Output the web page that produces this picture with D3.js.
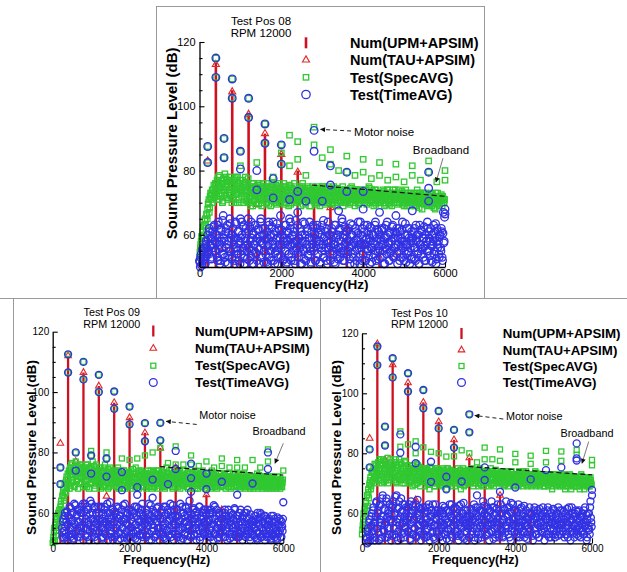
<!DOCTYPE html>
<html>
<head>
<meta charset="utf-8">
<script src="https://cdn.jsdelivr.net/npm/d3@7"></script>
<style>
html, body { margin: 0; padding: 0; background: #fff; }
svg { display: block; font-family: "Liberation Sans", Arial, sans-serif; }
</style>
</head>
<body>
<svg id="chart" width="627" height="572"></svg>
<script>
// ---------- shared axis / legend text ----------
const BIN_HZ = 20;                       // spacing of the measured spectral bins
const MID_OFFSET_HZ = 10;                // readings taken half-way between bins
const xTicks = [0, 2000, 4000, 6000];
const xMinorTicks = [1000, 3000, 5000];
const yTicks = [60, 80, 100, 120];
const yMinorTicks = [55, 65, 70, 75, 85, 90, 95, 105, 110, 115];
const legendLabels = ["Num(UPM+APSIM)", "Num(TAU+APSIM)", "Test(SpecAVG)", "Test(TimeAVG)"];
const titles08 = ["Test Pos 08", "RPM 12000"];
const titles09 = ["Test Pos 09", "RPM 12000"];
const titles10 = ["Test Pos 10", "RPM 12000"];

// ---------- Pos 08 ----------
const upm08 = [[200,59],[400,113.5],[800,105],[1200,98],[1600,91.5],[2000,85.5],[2400,80],[2800,74.5],[3200,69],[3600,63],[4000,58],[4400,55],[1000,57],[1400,56]];
const tau08 = [[200,83],[400,113],[800,104.5],[1200,97.5],[1400,69.5],[1600,91.5],[2000,85],[2400,79.5],[3200,68.5],[3600,62],[4000,57],[600,56],[2800,60],[4800,54]];
const specPeaks08 = [[200,87.5],[200,82.5],[400,115],[400,109],[600,90],[600,84],[800,108.5],[800,102.5],[1000,86],[1000,81.5],[1200,102.5],[1200,96.5],[1400,82.5],[1400,74],[1600,94.5],[1600,88.5],[1800,78],[2000,88],[2000,85.5],[2000,82],[2200,91],[2200,81.5],[2400,89],[2400,83.5],[2600,78.5],[2800,93.5],[2800,88],[3000,84],[3200,86.5],[3200,82],[3400,80],[3600,84.5],[3600,79.5],[3800,78.5],[4000,83.5],[4000,79.5],[4200,77.5],[4400,82.5],[4400,78.5],[4600,77],[4800,82],[4800,78],[5000,76.5],[5200,81.5],[5200,78.5],[5400,77],[5600,83],[5600,79.5],[5800,76.5],[6000,80],[6000,77]];
const timePeaks08 = [[200,87.5],[200,82.5],[400,115],[400,109],[600,90],[600,84],[800,108.5],[800,102.5],[1000,86],[1000,80.5],[1200,102.5],[1200,96.5],[1400,80],[1400,74],[1600,94.5],[1600,88.5],[1800,77.5],[1800,71.5],[2000,88],[2000,82],[2200,71],[2200,65],[2400,73.5],[2400,67],[2600,70.5],[2800,92.5],[2800,86],[3000,70.5],[3200,81.5],[3200,75.5],[3400,67.5],[3600,79.5],[3600,73.5],[4000,73.5],[4000,68],[4400,67],[4800,66],[5200,67.5],[5600,79.5],[5600,74.5],[5600,70.5],[6000,68],[6000,66.5]];
const specBand08 = [
53,56,58,55,61,59,63,65,62,66,68,70,67,72,71,73,70,74,72,75,
76,72,74,78,71,75,77,73,70,76,74,79,72,75,77,71,74,78,73,76,
75,72,77,74,70,78,73,76,71,75,77,73,74,70,76,72,78,74,71,75,
73,70,75,72,74,69,76,71,73,75,70,74,72,76,71,73,69,75,72,74,
72,75,70,73,76,71,74,69,73,75,71,72,74,70,75,73,71,76,72,70,
74,71,73,76,70,72,75,71,74,69,73,75,72,70,74,71,76,72,73,70,
71,74,72,75,69,73,76,71,72,74,70,73,75,71,72,74,69,73,75,72,
73,70,74,72,75,71,73,69,74,72,71,75,70,73,74,71,72,75,70,73,
72,74,70,73,75,71,72,74,69,73,71,74,72,70,73,75,71,72,74,70,
73,71,74,72,70,73,75,71,72,74,69,72,74,71,73,70,74,72,71,73,
71,73,70,74,72,71,73,75,70,72,74,71,73,69,72,74,71,73,70,72,
72,70,73,71,74,72,69,73,71,72,74,70,72,73,71,69,73,72,70,74,
71,73,70,72,74,71,72,70,73,71,69,72,74,71,70,73,72,71,69,72,
70,72,73,71,69,72,74,70,71,73,72,70,68,72,73,71,70,72,69,71,
72,70,71,73,69,71,72,70,68,72,71,73,70,69,72,71,70,72,71,70];
const specMid08 = [
54.5,57,59.5,56,62.5,60,64.5,63,66.5,65,69.5,71,68.5,73,72.5,74,71.5,75.5,73,76,
73.5,77,71,75.5,78.5,72,74.5,76,70.5,77.5,73,75,78,71.5,76.5,74,72.5,77,75.5,70,
76.5,71,74,77.5,72.5,75,78,73.5,70,76,74.5,72,77,75.5,71,73.5,76.5,70.5,74,77.5,
71.5,74.5,69,73,76,70.5,72.5,75,71,74,72,75.5,69.5,73,71.5,74.5,70,76,72.5,73.5,
73.5,70,74.5,72,69.5,75,71.5,73,76,70.5,74,71,72.5,75.5,69.5,73,74.5,70,72,75,
71,73.5,75,69.5,72.5,74,70,73,71.5,75.5,72,69.5,74.5,71,73,75,70.5,72,74,71.5,
73,70.5,72,74.5,71,75,69.5,72.5,74,70,73.5,71.5,72,74.5,69,73,71,74,72.5,70.5,
71.5,74,72.5,69.5,73,71,74.5,72,70,73.5,75,71,72.5,69.5,74,72,70.5,73,71.5,74.5,
73.5,71,69.5,74,72,70.5,73.5,71.5,74.5,70,72.5,73,70.5,74,71.5,69,72.5,74,70,73,
70.5,73,72,69.5,74.5,71,72.5,70,73.5,71.5,74,70.5,72,73.5,69.5,72.5,71,74,72,70.5,
72.5,70,74,71.5,69.5,73,72,74.5,71,70.5,72.5,73.5,70,72,74,69.5,72.5,71,73,71.5,
70.5,73,71.5,72.5,70,73.5,71,69.5,72,74,71,72.5,69.5,73,70.5,72,74,70,71.5,72.5,
72,69.5,71.5,73,70,72.5,71,73.5,69.5,72,70.5,73,71.5,69,72.5,70.5,71,73,70,71.5,
71.5,70,72.5,69.5,71,73,70.5,72,68.5,71.5,73,70,71,72.5,69.5,71,73,70.5,72,69.5,
70.5,72,69.5,71,72.5,70,68.5,71.5,73,70,71.5,69.5,72,70.5,71,72.5,69,71.5,70,71];
const timeBand08 = [
52,50,54,51,55,53,56,51,58,54,60,55,62,57,59,53,61,56,63,58,
55,60,52,64,57,51,62,58,54,66,59,53,61,56,63,51,58,65,55,60,
53,62,57,51,64,59,55,61,52,58,65,54,60,56,63,51,59,62,55,57,
61,52,58,64,55,60,51,57,63,54,59,56,62,51,58,65,53,60,57,55,
62,54,59,51,57,63,55,60,52,58,64,56,51,61,55,59,53,62,57,66,
56,60,52,58,63,55,51,61,57,54,59,64,52,57,60,55,62,51,58,56,
63,53,59,56,61,51,58,64,55,60,52,57,62,54,59,56,51,61,57,63,
55,60,52,58,62,54,57,51,60,56,63,53,59,55,61,52,58,64,56,60,
52,58,61,55,57,63,51,59,54,60,56,62,53,58,65,55,60,52,57,61,
59,54,62,56,51,60,57,63,53,58,55,61,52,59,64,56,51,60,57,62,
54,61,57,52,59,63,55,60,51,58,62,56,53,60,57,64,52,59,55,61,
60,53,58,62,55,51,59,56,63,54,60,57,52,61,55,58,63,53,59,56,
57,62,51,59,55,61,53,58,64,56,52,60,57,54,62,55,59,51,58,61,
53,59,56,62,52,58,60,55,51,63,57,54,61,56,59,52,60,58,55,62,
61,55,58,52,60,57,63,54,59,51,62,56,58,53,60,55,61,52,67,58];
const timeMid08 = [
51.5,53,50.5,55.5,52,54.5,51,57,53.5,56,58.5,54,61,56.5,52.5,59.5,57,62.5,55,60,
57.5,53,63,55.5,59,52,61.5,56,64.5,54,58,51.5,62,57,53.5,60.5,55,63.5,59,52.5,
60,55.5,58.5,52,63.5,56,54,61,57.5,51,59,64,55,62.5,53,58,56.5,60.5,52.5,65,
56,62.5,53.5,59,51,60.5,57,63,54.5,58,52,61.5,55.5,59.5,64,53,57.5,62,51.5,60,
58.5,51.5,61,56.5,64,53,59.5,55,62.5,57,52,60,54.5,58.5,63.5,51,56,61.5,59,53.5,
61.5,57,52.5,59,55,63,51.5,58,60.5,54,62,56.5,53,59.5,57.5,61,52,64.5,55.5,58,
54.5,59,62,51,57.5,60,55.5,52.5,63.5,58,56,61,53.5,59,64,55,51.5,58.5,62.5,56,
59,52,56.5,63,54,60.5,58,51.5,61.5,55,57,64.5,53,59.5,56,62,51,57.5,60,54,
56.5,62,54,59.5,51.5,57,63,55.5,60,52.5,58.5,61.5,54.5,56,64,52,59,62.5,55,57.5,
61,55,58,52.5,63.5,56.5,60,54,57.5,51,62,58.5,55.5,60.5,53,57,64,56,52,59.5,
57,63,52,58.5,55.5,61,53.5,59,62.5,56,51.5,60,57.5,54,63,55,58,61.5,52.5,56.5,
55,58.5,61.5,53,57,62,51,59.5,55.5,64,57.5,52,60.5,54.5,58,62.5,53.5,56,61,59,
60.5,54,57,62,52,59,56.5,61.5,53,58,55,63.5,51.5,57,60,54.5,62,56,52.5,59,
57.5,61,52.5,56,63,58.5,54,60,51,57,61.5,55.5,59,53,62.5,56.5,52,58,64,55,
59,53.5,62,56.5,51.5,58,60.5,55,63.5,52.5,57,61,54,59.5,56,62,53,60.5,57.5,65.5];
const broadband08 = [[2750,75.5],[6000,72]];

// ---------- Pos 09 ----------
const upm09 = [[200,57],[400,112],[800,106.5],[1200,102],[1600,96.5],[2000,91.5],[2400,86.5],[2800,81.5],[3200,75],[3600,70],[4000,66],[4400,61],[4800,55.5],[600,56],[1000,57],[1400,58]];
const tau09 = [[200,83],[400,112],[600,77],[800,106.5],[1200,102],[1400,65.5],[1600,96.5],[2000,91.5],[2400,86.5],[2800,81.5],[3200,75],[3600,70],[4000,66],[4400,61],[4800,55.5]];
const specPeaks09 = [[200,75],[200,69.5],[400,112.5],[400,106.5],[600,80],[600,74],[800,110],[800,104.2],[1000,80.5],[1000,79],[1200,105.7],[1200,100],[1400,80],[1400,78],[1600,100.2],[1600,94.5],[1800,78],[2000,95.2],[2000,89.3],[2000,77.5],[2200,78],[2400,89.7],[2400,83.7],[2400,79],[2600,80],[2800,89.8],[2800,84],[2800,81.5],[3000,76.5],[3200,82],[3200,76],[3400,76],[3600,79],[3600,76],[3800,75.5],[4000,77],[4200,75],[4400,78],[4400,75.5],[4600,75],[4800,77.5],[4800,75],[5000,75],[5200,77.5],[5400,75],[5600,81],[5600,77],[6000,74]];
const timePeaks09 = [[200,75],[200,69.5],[400,112.5],[400,106.5],[600,80],[600,74],[800,110],[800,104.2],[1000,79],[1000,73],[1200,105.7],[1200,100],[1400,78],[1400,72],[1600,100.2],[1600,94.5],[1800,73.5],[1800,67.5],[2000,95.2],[2000,89.3],[2200,68.5],[2200,66],[2400,89.7],[2400,83.7],[2600,71],[2600,65],[2800,89.8],[2800,84],[3000,69.5],[3200,80.5],[3200,74.5],[3600,76.3],[3600,71.5],[3600,67],[4000,73],[4000,67.8],[4400,70.3],[4800,66],[5200,69.7],[5600,80],[5600,74.5],[6000,63.5]];
const specBand09 = [
50,52,55,51,57,54,58,60,56,59,62,64,61,66,68,65,70,67,72,69,
71,74,68,73,76,70,72,75,69,74,77,71,73,68,75,72,76,70,74,73,
72,75,69,74,71,76,73,68,75,72,70,74,77,71,73,69,75,72,74,70,
73,70,75,68,72,74,71,69,76,72,70,73,68,74,71,75,69,72,73,70,
71,74,69,72,70,75,68,73,71,74,69,72,70,74,68,71,73,69,72,70,
72,69,74,71,68,73,70,72,75,69,71,73,68,72,70,74,69,71,73,70,
70,73,68,72,74,69,71,73,70,68,72,74,69,71,73,70,72,68,74,71,
72,70,74,69,71,73,68,72,75,70,71,73,69,72,70,74,68,71,73,70,
71,73,69,72,70,74,68,71,73,70,72,69,74,71,70,73,68,72,71,73,
70,72,68,73,71,69,74,70,72,68,71,73,70,69,72,74,70,71,68,72,
72,70,73,69,71,72,68,74,70,71,73,69,72,70,68,71,73,70,72,69,
70,72,69,71,73,68,70,72,71,69,73,70,68,72,71,70,69,73,71,70,
69,71,73,70,68,72,70,71,69,73,70,68,72,71,69,70,72,68,71,70,
70,68,71,72,69,70,73,68,71,70,69,72,70,68,71,69,72,70,68,71,
69,71,68,70,72,69,71,68,70,69,71,68,70,72,69,70,68,71,69,70];
const specMid09 = [
51,53.5,50.5,56,52.5,58.5,55,59.5,61,57.5,63,60.5,65.5,67,64,69.5,66.5,71,68,73,
70,73.5,75,69,72.5,76.5,71,74,68.5,73,75.5,70.5,72,76,69.5,74.5,71.5,73,75,68.5,
74,70.5,72.5,76,68.5,73.5,71,75,69.5,72,74.5,70,73,75.5,68,72.5,76,70.5,73.5,71.5,
69.5,72,74,70.5,73,68.5,75,71.5,69,73.5,72,70,74.5,68.5,72.5,71,73.5,69.5,74,71.5,
72.5,70,73.5,68.5,71,74,69.5,72,70.5,73,68,71.5,74,69,72.5,70.5,73,68.5,71,73.5,
70.5,73,69,72,74.5,70,71.5,68.5,73,71,69.5,72.5,74,70,71,73.5,68.5,72,70.5,73,
71.5,69,72.5,70.5,73,68.5,72,74,69.5,71,73.5,70,68.5,72.5,71,74,69,72,70.5,73,
69.5,72.5,71,73.5,68.5,70.5,72,69,73,71.5,70,74,69.5,71,72.5,68.5,73,70.5,72,69,
72,70,72.5,68.5,71.5,73,69.5,70.5,72,74,69,71.5,72.5,70,68.5,72,73.5,69.5,71,70.5,
71,73.5,69.5,70.5,72.5,68,71.5,73,69,70.5,72,69.5,71,73,68.5,70.5,72.5,71,69.5,73,
69,71.5,72,70.5,68.5,73,71,69.5,72.5,70,71.5,68.5,73,70.5,72,69,71.5,70,73,68.5,
71.5,69,70.5,72.5,71,69.5,72,70,68.5,71.5,72,70.5,69.5,71,73,68.5,70.5,72,69,71.5,
70.5,72,68.5,71.5,70,72.5,69,71,70.5,68.5,72,70,71.5,69.5,72.5,68.5,70.5,71,69,72,
69.5,71,70.5,68.5,72,69,71.5,70,72.5,68.5,70.5,71,69.5,72,70,68.5,71.5,69,70.5,72,
70.5,68.5,71.5,69.5,70,72,68.5,70.5,71.5,69,70,72,68.5,70.5,69.5,71,69,70.5,68.5,71];
const timeBand09 = [
null,null,null,null,null,null,null,null,null,null,null,null,55,52,58,54,60,53,57,51,
59,54,62,52,57,60,55,51,63,56,53,59,61,54,57,52,60,55,62,58,
51,57,63,55,59,52,61,56,54,64,58,52,60,55,57,62,53,59,51,56,
60,54,57,62,52,58,55,61,53,59,56,63,51,57,60,54,58,52,61,55,
57,52,60,55,62,51,58,56,59,53,61,55,57,52,63,58,54,60,56,52,
59,55,61,53,57,52,60,56,54,62,51,58,55,60,53,57,61,52,59,56,
54,60,52,58,56,63,51,57,59,54,61,55,52,58,60,53,57,62,55,51,
58,53,61,56,52,59,55,62,51,57,60,54,58,63,52,56,59,55,61,53,
56,61,52,59,54,57,63,51,58,55,60,53,57,62,55,51,59,56,64,54,
52,58,55,61,53,60,56,51,59,57,54,62,52,58,55,60,53,57,61,56,
59,53,57,52,60,55,61,54,58,51,56,62,53,59,55,57,52,60,54,58,
55,60,52,57,61,54,58,51,56,59,53,57,60,52,55,58,54,61,56,52,
58,52,56,60,53,57,55,51,59,54,57,52,60,55,53,58,56,51,57,54,
53,57,55,52,59,54,51,58,56,53,60,55,52,57,54,59,51,56,53,58,
56,52,58,54,51,57,53,59,55,52,57,54,51,56,53,58,52,55,57,54];
const timeMid09 = [
null,null,null,null,null,null,null,null,null,null,null,null,53.5,57,51.5,59,55.5,52,60.5,56,
52.5,58.5,55,61.5,53,57.5,60,51.5,56.5,62.5,54,59.5,52,57,61,55.5,53,60,56,63,
55,60.5,52.5,58,62,54.5,57,51,59.5,55.5,63,53.5,58,61.5,52,56.5,60,54,57.5,62,
53.5,58,61.5,55,51.5,59.5,56.5,62,54,57,52.5,60,55.5,58.5,63.5,53,56,61,51,59,
60.5,55,52.5,58.5,56,61.5,53.5,59,51.5,57.5,55,62.5,58,53,60,56.5,51.5,59.5,54.5,61,
52,57.5,55,60.5,53.5,58.5,62,51.5,56,59,54,61.5,57,52.5,59.5,55.5,63,53,58,56.5,
57,52.5,61,55.5,59.5,53,57.5,62.5,51,56,58.5,54,60,52,57,61.5,55,59,53.5,58,
55,60,53.5,58,62,51.5,56.5,59.5,54,61,52.5,57.5,55,60.5,53,58.5,62.5,51,56,59,
53,58.5,61,55,52,57.5,60,54.5,62,51.5,56.5,59,53.5,61.5,57,52.5,60.5,55.5,58,52,
59.5,54.5,57,61.5,52.5,58,55,60.5,53,56.5,62,51,58.5,55.5,59,53.5,61,56,52.5,60,
56,61,53,57.5,59.5,52,55.5,60,56.5,62.5,53,58,54.5,61,51.5,57,59.5,53,56.5,55,
58,53.5,56.5,60,52,59,54.5,57.5,61,55,51.5,58.5,56,53,59.5,55,61.5,52.5,57,59,
54.5,59,52,57,61,53.5,58.5,55,52.5,60,56,53,58.5,61,54,56.5,52,59.5,55.5,57.5,
56,52.5,59,55,57.5,51.5,60,53.5,56.5,58.5,52,59.5,55,57,53,56.5,59,54.5,52,57.5,
53,57,54.5,51.5,59,55.5,52.5,56.5,58,53.5,55,51.5,58.5,53.5,56,54,57.5,52,55.5,58];
const broadband09 = [[2800,75.3],[6000,72.5]];

// ---------- Pos 10 ----------
const upm10 = [[200,57],[400,116.5],[800,110],[1200,103.5],[1600,97],[2000,90.5],[2400,84.5],[2800,78.5],[3200,72],[3600,66],[4000,62],[4400,60],[600,58],[1000,57.5],[1400,65]];
const tau10 = [[200,85],[400,116.5],[600,77.8],[800,109.5],[1000,71],[1200,103.5],[1400,64.5],[1600,97],[2000,90.5],[2400,84.5],[2800,78.5],[3200,72],[3600,66],[4400,60]];
const specPeaks10 = [[200,81.3],[200,75.3],[400,115.6],[400,109.4],[600,88.9],[600,82.6],[800,111.7],[800,105.3],[1000,87.3],[1000,82.2],[1200,106.7],[1200,100.6],[1200,83],[1400,84],[1400,80],[1600,101.1],[1600,95],[1600,82],[1800,80.5],[2000,94.1],[2000,88.3],[2000,80],[2200,78.9],[2400,87.8],[2400,81.9],[2400,79],[2600,81],[2800,93],[2800,87],[2800,80],[3000,77],[3200,81.9],[3200,78],[3400,78],[3600,81.3],[3600,77.5],[4000,79.8],[4000,77],[4400,79.2],[4400,76.5],[4800,80.8],[4800,77],[5200,80.6],[5200,77.5],[5600,81.1],[5600,79.5],[6000,77.8],[6000,76]];
const timePeaks10 = [[200,81.3],[200,75.3],[400,115.6],[400,109.4],[600,88.9],[600,82.6],[800,111.7],[800,105.3],[1000,86.3],[1000,80.2],[1200,106.7],[1200,100.6],[1400,82.2],[1400,76.7],[1600,101.1],[1600,95],[1800,77.2],[1800,70.5],[2000,94.1],[2000,88.3],[2200,72.2],[2200,68],[2400,87.8],[2400,81.9],[2600,70.6],[2800,93],[2800,87],[3000,66],[3200,75.3],[3200,71.1],[3600,67.2],[4000,68.6],[4400,71.3],[4800,74.4],[5200,75.3],[5600,83.3],[5600,78.3],[5600,77.6],[6000,67.8],[6000,66]];
const specBand10 = [
53,56,60,57,62,64,61,66,68,65,70,72,69,74,71,75,73,70,76,72,
74,77,71,75,73,78,70,76,72,74,77,71,75,73,70,76,74,78,72,75,
73,76,71,74,78,70,75,72,77,73,71,76,74,70,75,72,77,73,71,74,
72,75,70,74,71,76,69,73,75,71,74,70,72,76,71,73,69,75,72,74,
71,74,69,73,75,70,72,74,68,73,71,75,70,72,74,69,73,71,75,70,
73,70,74,71,69,73,75,70,72,74,68,72,75,71,73,70,74,69,72,71,
72,74,69,73,71,75,70,72,74,68,73,71,75,69,72,74,70,73,71,72,
74,70,73,71,75,69,72,74,70,73,71,74,69,72,75,70,73,71,74,69,
71,73,70,74,72,69,73,71,75,70,72,74,69,73,71,72,74,70,73,71,
72,70,73,71,74,69,72,73,70,74,71,69,73,72,70,74,71,73,69,72,
70,73,71,72,69,74,70,72,73,71,69,73,71,70,74,72,69,71,73,70,
72,69,71,73,70,72,74,69,71,72,70,73,69,71,72,70,73,71,69,72,
71,70,72,69,73,71,70,72,68,71,73,70,72,69,71,70,72,71,69,73,
70,72,69,71,73,68,71,70,72,69,71,73,70,68,72,71,69,70,72,71,
69,71,72,70,68,71,73,69,70,72,68,71,70,72,69,70,71,69,72,70];
const specMid10 = [
54.5,58,55,61.5,59,63.5,66,62.5,67,69.5,71,68,73.5,70.5,74,72,76.5,71.5,74.5,73,
76,72.5,78,74,71,76.5,73,77.5,70.5,75,73.5,76,72,78.5,74.5,71,75.5,73,77,72,
75.5,72,77,73.5,70.5,76,74.5,72.5,78,71.5,74,76.5,72,75,73,70,77.5,74,72.5,76,
73,70.5,76,72,74.5,71,75,73.5,69.5,74,72.5,76.5,70,73,75.5,71.5,74,72,70.5,75,
72.5,75,70.5,73.5,71,74.5,69.5,72,75.5,71,73.5,70,74,72.5,69,73,75,71.5,72,74.5,
71.5,74,72,69.5,73.5,71,74.5,72,70,73,75,71.5,69.5,73.5,72,74.5,70.5,72.5,74,71,
73.5,71,74,70,72.5,73.5,71.5,69.5,74.5,72,70.5,73.5,72,74,69.5,72.5,71,74.5,70,73,
72,74.5,70.5,73,71.5,74,72.5,70,73.5,71.5,74.5,70,72.5,73.5,71,69.5,74,72,70.5,73.5,
73,70.5,72.5,71,74,70,73.5,72,69.5,74,71.5,73,70,72.5,74.5,71,72,73.5,70.5,72,
71.5,73.5,70,72.5,71,73,69.5,74,72,70.5,73.5,71.5,72,70,74,71,72.5,69.5,73,71.5,
72,70.5,73,69.5,72.5,71.5,73.5,70,71,72.5,74,70,72,71.5,69.5,73,72,70.5,71.5,73,
70.5,72.5,71,69.5,73,70,72,73.5,70.5,71,72.5,69.5,73,71.5,70,72.5,71,69,72.5,70.5,
72.5,71,69.5,73,70.5,72,71.5,69,72.5,70,71.5,73,70,72,69.5,71.5,72.5,70,71,72,
71,69.5,72.5,70,71.5,72,69,71.5,70.5,72.5,70,71,72.5,69.5,71,70.5,72,69,71.5,70,
70.5,72,69,71.5,70,72.5,69.5,71,72,69.5,70.5,72,69.5,71,70.5,69,71.5,70,71,69.5];
const timeBand10 = [
null,null,null,null,null,null,52,50,55,53,58,51,56,60,54,62,57,52,59,64,
55,61,51,58,63,56,52,66,59,54,61,57,65,52,60,55,63,58,51,62,
57,64,53,60,55,66,58,51,62,56,59,65,53,61,57,52,63,55,60,58,
62,54,59,51,64,57,61,53,58,55,63,52,60,56,62,54,58,51,61,57,
53,60,56,62,52,58,55,63,51,59,57,61,54,52,60,56,63,58,53,61,
59,52,57,61,55,51,60,56,62,53,58,54,61,57,51,59,55,63,52,58,
56,62,53,58,60,54,51,59,57,63,55,52,60,58,54,61,56,51,59,57,
52,59,56,61,54,58,63,51,57,60,55,62,53,58,56,61,52,59,64,55,
60,55,62,53,59,56,51,61,57,64,54,58,62,55,52,60,57,63,56,53,
57,63,54,60,52,58,61,55,64,56,59,53,62,57,51,60,55,63,58,54,
61,56,52,59,63,55,58,53,62,57,60,54,52,59,61,56,53,58,55,60,
54,60,57,51,58,62,55,59,53,61,56,52,60,57,54,59,62,55,51,58,
59,53,61,56,52,58,55,60,57,53,61,56,52,59,54,58,62,55,57,53,
56,61,54,58,52,60,57,53,59,55,62,57,51,58,54,60,56,52,59,61,
53,58,56,61,55,52,59,54,60,57,53,62,56,51,58,55,60,53,64,57];
const timeMid10 = [
null,null,null,null,null,null,51.5,54,50.5,57,52.5,55.5,59,53,61,56.5,51,58,63.5,55,
60,53.5,62.5,57,51.5,59,65,54.5,61.5,56,52,64,58.5,55,61,53,63,57.5,59.5,52.5,
62.5,55,59.5,65.5,52,57,61.5,54,64,58,51.5,60.5,56.5,63,53.5,59,55.5,62,57,54,
59,63,51.5,56.5,60,53,62.5,57.5,55,61,52.5,58.5,64.5,54,59.5,56,61.5,53,57,62,
56.5,52,61,58,54.5,60.5,52.5,57,62,55.5,59,53.5,63,56,51.5,58.5,61,54,60,56,
54,60,55.5,52.5,59,62.5,56.5,53,58,61,51.5,57,54.5,60.5,63,55,58.5,52,56,61.5,
59.5,54,57,61.5,52.5,56,62.5,58.5,53,55.5,60,57.5,63.5,51.5,56.5,59,53.5,61,55,58,
56,61.5,53,57.5,60,55,52,58.5,62,54,59,51.5,57,61,55.5,53,60.5,56,58,62.5,
57.5,52.5,59,56,61.5,53.5,58,60.5,54,56.5,62,51.5,59.5,57,53,61.5,55,58.5,52,60,
54.5,60,57,52.5,58,61.5,53.5,56,59.5,62,55,57.5,52,60.5,63.5,54,58,56.5,61,55.5,
58.5,53,60.5,55.5,57,52,61.5,56,54,59,57.5,62.5,53.5,56,58.5,51.5,60,55,62,57,
56,59.5,52.5,58,61,55,53,60,56.5,58.5,52,61.5,55.5,57,59,53.5,56,60.5,54,58,
55.5,58,62,53,57,60.5,52,56.5,59,61.5,54.5,57.5,53,60,56,52.5,58.5,55,61,56.5,
58,54,57,60.5,55.5,53,58.5,61.5,52,56,59.5,54,57.5,62,55,58,53.5,60,56.5,54.5,
55,60.5,52.5,57.5,59,54,56.5,58.5,53,61,55.5,57,59.5,52,60,56,54.5,62,58.5,55.5];
const broadband10 = [[2780,75.6],[6000,72.8]];

// ---------- styling ----------
const STEM_RED = "#cf1020";
const TRI_RED = "#e0282a";
const GREEN = "#31c831";
const BLUE = "#3232e4";
const FRAME = "#9a9a9a";

const panels = [
  { titles: titles08, upm: upm08, tau: tau08, specPeaks: specPeaks08, timePeaks: timePeaks08,
    specBand: specBand08, specMid: specMid08, timeBand: timeBand08, timeMid: timeMid08, broadband: broadband08,
    x0: 199.5, x1: 445, y0: 267, y1: 42,
    r: 3.8, sq: 5.4, tri: 22, stemW: 2.6, tickFont: 11, tickPad: 2, yTickPad: 4,
    legend: { sx: 306, tx: 350, rows: [42.8, 60, 77.3, 94.5], font: 14.5 },
    title: { cx: 261, b1: 24.5, b2: 37, font: 11.5 },
    yLabel: { cx: 171.7, cy: 143.3, font: 15 },
    xLabel: { cx: 321.5, b: 289, font: 13.5 },
    motor: { f: 2800, db: 92.5, tx: 40, ty: 5.6, lx: 37, ly: 0.6, hx: 6.5, hy: -1 },
    broad: { f: 5780, db: 76.4, tx: 5, ty: -28, lx: 7, ly: -24 } },
  { titles: titles09, upm: upm09, tau: tau09, specPeaks: specPeaks09, timePeaks: timePeaks09,
    specBand: specBand09, specMid: specMid09, timeBand: timeBand09, timeMid: timeMid09, broadband: broadband09,
    x0: 52.7, x1: 283.3, y0: 543, y1: 331.7,
    r: 3.5, sq: 5, tri: 19, stemW: 2.3, tickFont: 10, tickPad: 2, yTickPad: 3.5,
    legend: { sx: 153.3, tx: 195, rows: [331, 348.3, 365.7, 382.5], font: 13.3 },
    title: { cx: 111.7, b1: 315.7, b2: 327.5, font: 10.8 },
    yLabel: { cx: 31.7, cy: 447.5, font: 13.7 },
    xLabel: { cx: 166.7, b: 563.5, font: 12.5 },
    motor: { f: 2800, db: 89.8, tx: 39, ty: -3.7, lx: 36.4, ly: 1.6, hx: 6, hy: -1.5 },
    broad: { f: 5784, db: 76.4, tx: 4, ty: -28.3, lx: 8.3, ly: -20 } },
  { titles: titles10, upm: upm10, tau: tau10, specPeaks: specPeaks10, timePeaks: timePeaks10,
    specBand: specBand10, specMid: specMid10, timeBand: timeBand10, timeMid: timeMid10, broadband: broadband10,
    x0: 362, x1: 592, y0: 543.3, y1: 333.3,
    r: 3.5, sq: 5, tri: 19, stemW: 2.3, tickFont: 10, tickPad: 2, yTickPad: 3.5,
    legend: { sx: 461.5, tx: 502.7, rows: [333.5, 350, 366, 382.5], font: 13.3 },
    title: { cx: 419.5, b1: 316.5, b2: 328.3, font: 10.8 },
    yLabel: { cx: 336, cy: 447.5, font: 13.7 },
    xLabel: { cx: 475.3, b: 564, font: 12.5 },
    motor: { f: 2800, db: 93, tx: 36.7, ty: 5.4, lx: 34, ly: 4.7, hx: 5.5, hy: 1.2 },
    broad: { f: 5739, db: 76.7, tx: 5, ty: -26.6, lx: 6.7, ly: -21.6 } }
];

const svg = d3.select("#chart");
svg.append("rect").attr("width", 627).attr("height", 572).attr("fill", "#fff");

// arrowhead used by both call-outs
const defs = svg.append("defs");
defs.append("marker").attr("id", "arrowHead").attr("viewBox", "0 0 10 10")
  .attr("refX", 9).attr("refY", 5).attr("markerWidth", 7).attr("markerHeight", 5)
  .attr("markerUnits", "userSpaceOnUse").attr("orient", "auto")
  .append("path").attr("d", "M0,0 L10,5 L0,10 Z").attr("fill", "#111");

// panel frames
const frames = svg.append("g").attr("fill", "none").attr("stroke", FRAME).attr("stroke-width", 1);
frames.append("rect").attr("x", 156.5).attr("y", 6.5).attr("width", 328).attr("height", 292);
frames.append("line").attr("x1", 0).attr("x2", 627).attr("y1", 298.5).attr("y2", 298.5);
frames.append("line").attr("x1", 13.5).attr("x2", 13.5).attr("y1", 298.5).attr("y2", 572);
frames.append("line").attr("x1", 320.5).attr("x2", 320.5).attr("y1", 298.5).attr("y2", 572);

function drawPanel(p) {
  const g = svg.append("g");
  const x = d3.scaleLinear().domain([0, 6000]).range([p.x0, p.x1]);
  const y = d3.scaleLinear().domain([50, 120]).range([p.y0, p.y1]);
  // spectral readings: whole bins and the readings half-way between them
  const binned = (whole, mid) => whole.map((v, i) => [i * BIN_HZ, v])
    .concat(mid.map((v, i) => [i * BIN_HZ + MID_OFFSET_HZ, v]))
    .filter(d => d[1] != null)
    .sort((a, b) => a[0] - b[0]);
  const triPath = d3.symbol(d3.symbolTriangle, p.tri)();

  // Num(UPM+APSIM): stems from the floor of the axis
  g.append("g").selectAll("line").data(p.upm).join("line")
    .attr("x1", d => x(d[0])).attr("x2", d => x(d[0]))
    .attr("y1", y(50)).attr("y2", d => y(d[1]))
    .attr("stroke", STEM_RED).attr("stroke-width", p.stemW);

  // Num(TAU+APSIM): open triangles
  g.append("g").selectAll("path").data(p.tau).join("path")
    .attr("d", triPath)
    .attr("transform", d => `translate(${x(d[0])},${y(d[1])})`)
    .attr("fill", "none").attr("stroke", TRI_RED).attr("stroke-width", 1.1);

  // Test(SpecAVG): open squares
  const sq = p.sq;
  g.append("g").selectAll("rect").data(binned(p.specBand, p.specMid).concat(p.specPeaks)).join("rect")
    .attr("x", d => x(d[0]) - sq / 2).attr("y", d => y(d[1]) - sq / 2)
    .attr("width", sq).attr("height", sq)
    .attr("fill", "none").attr("stroke", GREEN).attr("stroke-width", 1.3);

  // Test(TimeAVG): open circles
  g.append("g").selectAll("circle").data(binned(p.timeBand, p.timeMid).concat(p.timePeaks)).join("circle")
    .attr("cx", d => x(d[0])).attr("cy", d => y(d[1])).attr("r", p.r)
    .attr("fill", "none").attr("stroke", BLUE).attr("stroke-width", 1.35);

  // broadband trend
  g.append("path").datum(p.broadband)
    .attr("d", d3.line().x(d => x(d[0])).y(d => y(d[1])))
    .attr("fill", "none").attr("stroke", "#111").attr("stroke-width", 1.2)
    .attr("stroke-dasharray", "5,3");

  // axes (ticks point into the plot)
  const fmt = d3.format("d");
  const yAxis = g.append("g").attr("transform", `translate(${p.x0},0)`)
    .call(d3.axisLeft(y).tickValues(yTicks).tickFormat(fmt).tickSize(-5).tickSizeOuter(0).tickPadding(p.yTickPad));
  g.append("g").attr("transform", `translate(${p.x0},0)`)
    .call(d3.axisLeft(y).tickValues(yMinorTicks).tickSize(-3).tickSizeOuter(0).tickFormat(""))
    .select(".domain").remove();
  const xAxis = g.append("g").attr("transform", `translate(0,${p.y0})`)
    .call(d3.axisBottom(x).tickValues(xTicks).tickFormat(fmt).tickSize(-5).tickSizeOuter(0).tickPadding(p.tickPad));
  g.append("g").attr("transform", `translate(0,${p.y0})`)
    .call(d3.axisBottom(x).tickValues(xMinorTicks).tickSize(-3).tickSizeOuter(0).tickFormat(""))
    .select(".domain").remove();
  g.selectAll(".domain").attr("stroke", "#000").attr("stroke-width", 1.3);
  g.selectAll(".tick line").attr("stroke", "#000").attr("stroke-width", 1.1);
  [yAxis, xAxis].forEach(a => a.selectAll("text")
    .attr("font-family", "Liberation Sans, Arial, sans-serif")
    .attr("font-size", p.tickFont).attr("fill", "#000"));

  // axis titles
  g.append("text")
    .attr("transform", `translate(${p.yLabel.cx},${p.yLabel.cy}) rotate(-90)`)
    .attr("text-anchor", "middle").attr("dy", "0.35em")
    .attr("font-size", p.yLabel.font).attr("font-weight", "bold")
    .text("Sound Pressure Level (dB)");
  g.append("text").attr("x", p.xLabel.cx).attr("y", p.xLabel.b)
    .attr("text-anchor", "middle").attr("font-size", p.xLabel.font).attr("font-weight", "bold")
    .text("Frequency(Hz)");

  // case title
  g.append("text").attr("x", p.title.cx).attr("y", p.title.b1).attr("text-anchor", "middle")
    .attr("font-size", p.title.font).text(p.titles[0]);
  g.append("text").attr("x", p.title.cx).attr("y", p.title.b2).attr("text-anchor", "middle")
    .attr("font-size", p.title.font).text(p.titles[1]);

  // legend
  const L = p.legend;
  const lg = g.append("g");
  lg.append("line").attr("x1", L.sx).attr("x2", L.sx)
    .attr("y1", L.rows[0] - 5.5).attr("y2", L.rows[0] + 5.5)
    .attr("stroke", STEM_RED).attr("stroke-width", p.stemW);
  lg.append("path").attr("d", triPath).attr("transform", `translate(${L.sx},${L.rows[1]})`)
    .attr("fill", "none").attr("stroke", TRI_RED).attr("stroke-width", 1.1);
  lg.append("rect").attr("x", L.sx - sq / 2).attr("y", L.rows[2] - sq / 2)
    .attr("width", sq).attr("height", sq)
    .attr("fill", "none").attr("stroke", GREEN).attr("stroke-width", 1.3);
  lg.append("circle").attr("cx", L.sx).attr("cy", L.rows[3]).attr("r", p.r + 0.4)
    .attr("fill", "none").attr("stroke", BLUE).attr("stroke-width", 1.3);
  lg.selectAll("text").data(legendLabels).join("text")
    .attr("x", L.tx).attr("y", (d, i) => L.rows[i] + L.font * 0.36)
    .attr("font-size", L.font).attr("font-weight", "bold").text(d => d);

  // "Motor noise" call-out
  const m = p.motor, mx = x(m.f), my = y(m.db);
  g.append("line").attr("x1", mx + m.lx).attr("y1", my + m.ly)
    .attr("x2", mx + m.hx).attr("y2", my + m.hy)
    .attr("stroke", "#222").attr("stroke-width", 1).attr("stroke-dasharray", "4,3")
    .attr("marker-end", "url(#arrowHead)");
  g.append("text").attr("x", mx + m.tx).attr("y", my + m.ty)
    .attr("font-size", p.title.font).text("Motor noise");

  // "Broadband" call-out
  const b = p.broad, bx = x(b.f), by = y(b.db);
  g.append("line").attr("x1", bx + b.lx).attr("y1", by + b.ly).attr("x2", bx).attr("y2", by)
    .attr("stroke", "#555").attr("stroke-width", 0.8).attr("marker-end", "url(#arrowHead)");
  g.append("text").attr("x", bx + b.tx).attr("y", by + b.ty).attr("text-anchor", "middle")
    .attr("font-size", p.title.font).text("Broadband");
}

panels.forEach(drawPanel);
</script>
</body>
</html>
